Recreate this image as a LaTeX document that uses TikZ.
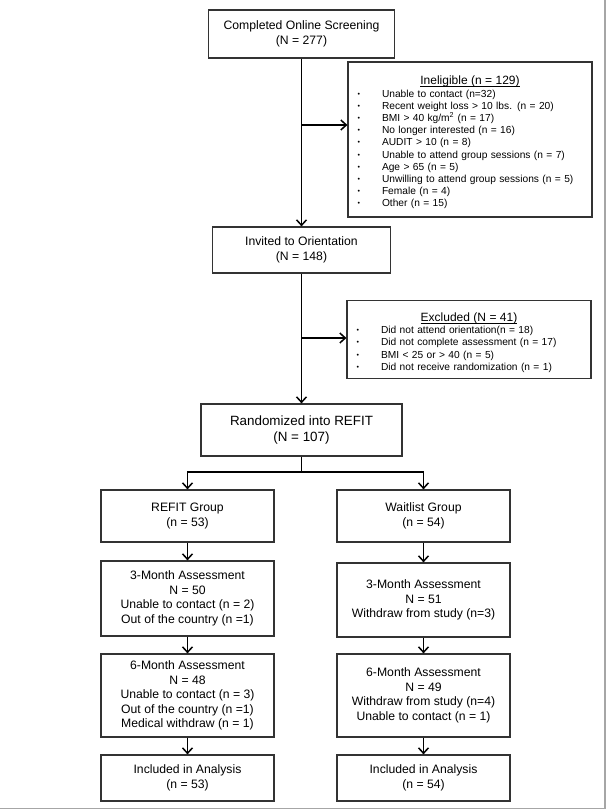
\documentclass[tikz,border=0pt]{standalone}
\usepackage{fontspec}
\setmainfont{Liberation Sans}
\usetikzlibrary{arrows.meta}
\newcommand\itm{\par\makebox[28pt][l]{\hspace{3.5pt}\raisebox{1pt}{\fontsize{7}{7}\selectfont\textbullet}}}
\newcommand\ttlline[1]{\leavevmode\rule{0pt}{14.8pt}\hfill{\fontsize{12}{12.2}\selectfont
  \setbox0\hbox{#1}\rlap{\rule[-1.7pt]{\wd0}{0.6pt}}\box0}\hfill\null}
\begin{document}
\begin{tikzpicture}[x=1pt,y=-1pt,
  box/.style={draw=black!80, line width=1.2pt, rectangle, inner sep=0pt, align=center,
    minimum width=173pt, font=\fontsize{12.2}{14.5}\selectfont},
  listbox/.style={draw=black!80, line width=1.2pt, rectangle, inner sep=6pt, text width=232pt,
    align=left, minimum width=244pt, font=\fontsize{10.2}{12.2}\selectfont},
  arr/.style={line width=1.3pt, -{Straight Barb[length=5.5pt,width=10pt,line width=1.5pt]}},
  ln/.style={line width=1.3pt},
  frame/.style={draw=black!35, line width=1.5pt}]
\useasboundingbox (0,0) rectangle (606,810);

% main column
\node[box, minimum width=186pt, minimum height=48pt] (screen) at (301.5,34)
  {Completed Online Screening\\(N = 277)};
\node[listbox, minimum height=155pt] (inelig) at (470,139.5)
  {\ttlline{Ineligible (n = 129)}%
   \itm Unable to contact (n=32)%
   \itm Recent weight loss > 10 lbs. (n = 20)%
   \itm BMI > 40 kg/m\textsuperscript{2} (n = 17)%
   \itm No longer interested (n = 16)%
   \itm AUDIT > 10 (n = 8)%
   \itm Unable to attend group sessions (n = 7)%
   \itm Age > 65 (n = 5)%
   \itm Unwilling to attend group sessions (n = 5)%
   \itm Female (n = 4)%
   \itm Other (n = 15)};
\node[box, minimum width=178pt, minimum height=46pt] (invited) at (301.5,250)
  {Invited to Orientation\\(N = 148)};
\node[listbox, minimum height=75pt] (excl) at (469,339.5)
  {\ttlline{Excluded (N = 41)}%
   \itm Did not attend orientation(n = 18)%
   \itm Did not complete assessment (n = 17)%
   \itm BMI < 25 or > 40 (n = 5)%
   \itm Did not receive randomization (n = 1)};
\node[box, minimum width=201pt, minimum height=52pt, font=\fontsize{13.4}{16.5}\selectfont] (rand) at (301.5,430)
  {Randomized into REFIT\\(N = 107)};

% two arms
\node[box, minimum height=52pt] (refit) at (187.5,516) {REFIT Group\\(n = 53)};
\node[box, minimum height=52pt] (wait) at (423.5,516) {Waitlist Group\\(n = 54)};
\node[box, minimum height=75pt] (r3) at (187.5,598.5)
  {3-Month Assessment\\N = 50\\Unable to contact (n = 2)\\Out of the country (n =1)};
\node[box, minimum height=74pt] (w3) at (423.5,600)
  {3-Month Assessment\\N = 51\\Withdraw from study (n=3)};
\node[box, minimum height=83pt] (r6) at (187.5,695.5)
  {6-Month Assessment\\N = 48\\Unable to contact (n = 3)\\Out of the country (n =1)\\Medical withdraw (n = 1)};
\node[box, minimum height=83pt] (w6) at (423.5,695.5)
  {6-Month Assessment\\N = 49\\Withdraw from study (n=4)\\Unable to contact (n = 1)};
\node[box, minimum height=46pt] (rinc) at (187.5,778) {Included in Analysis\\(n = 53)};
\node[box, minimum height=46pt] (winc) at (423.5,778) {Included in Analysis\\(n = 54)};

% connectors
\coordinate (j1) at (301.5,125);
\coordinate (j2) at (301.5,338);
\coordinate (br) at (301.5,472);
\draw[arr] (screen.south) -- (invited.north);
\draw[arr] (j1) -- (j1 -| inelig.west);
\draw[arr] (invited.south) -- (rand.north);
\draw[arr] (j2) -- (j2 -| excl.west);
\draw[ln] (rand.south) -- (br);
\draw[arr] (br) -| (refit.north);
\draw[arr] (br) -| (wait.north);
\draw[arr] (refit.south) -- (r3.north);
\draw[arr] (r3.south) -- (r6.north);
\draw[arr] (r6.south) -- (rinc.north);
\draw[arr] (wait.south) -- (w3.north);
\draw[arr] (w3.south) -- (w6.north);
\draw[arr] (w6.south) -- (winc.north);

% page edge
\draw[frame] (0,808.5) -- (605,808.5);
\draw[frame] (605,0) -- (605,808.5);
\end{tikzpicture}
\end{document}
